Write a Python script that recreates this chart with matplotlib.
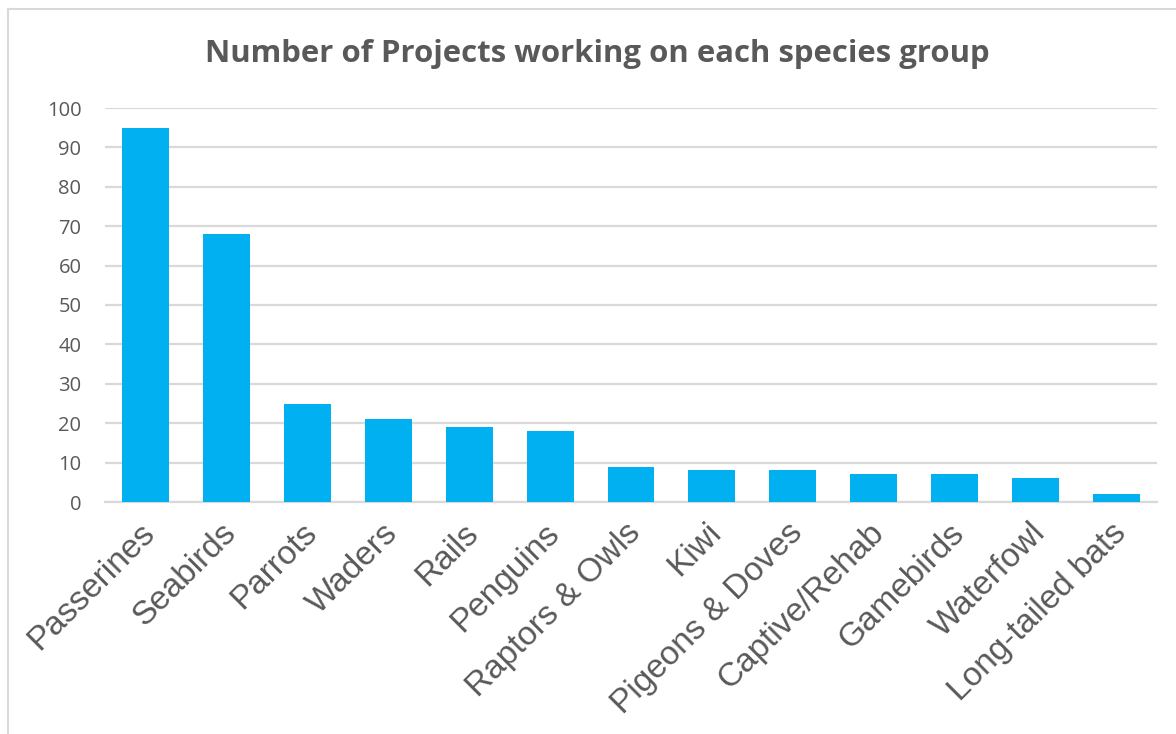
import matplotlib
matplotlib.use("Agg")
import matplotlib.pyplot as plt
import matplotlib.transforms as mtransforms
from matplotlib.lines import Line2D

species = ["Passerines", "Seabirds", "Parrots", "Waders", "Rails", "Penguins",
           "Raptors & Owls", "Kiwi", "Pigeons & Doves", "Captive/Rehab",
           "Gamebirds", "Waterfowl", "Long-tailed bats"]
projects = [95, 68, 25, 21, 19, 18, 9, 8, 8, 7, 7, 6, 2]
yticks = [0, 10, 20, 30, 40, 50, 60, 70, 80, 90, 100]

GREY = "#595959"
GRID = "#D9D9D9"

fig = plt.figure(figsize=(11.76, 7.34), dpi=100)
ax = fig.add_axes([105 / 1176, 1 - 502 / 734, 1052 / 1176, 394 / 734])

x = range(len(species))
ax.bar(x, projects, width=0.58, color="#00B0F0", zorder=3)
ax.set_xlim(-0.5, len(species) - 0.5)
ax.set_ylim(0, 100)
ax.set_yticks(yticks)
ax.yaxis.grid(True, color=GRID, linewidth=1.6, zorder=0)
for s in ["top", "right", "left"]:
    ax.spines[s].set_visible(False)
ax.spines["bottom"].set_color(GRID)
ax.spines["bottom"].set_linewidth(1.6)
ax.tick_params(axis="y", length=0, pad=17, labelsize=14.5, labelcolor=GREY)
ax.tick_params(axis="x", length=0, pad=11)
for lab in ax.get_yticklabels():
    lab.set_fontfamily("Open Sans")

ax.set_xticks(list(x))
ax.set_xticklabels(species, rotation=45, ha="right", va="top",
                   rotation_mode="anchor", fontsize=24, color=GREY,
                   fontfamily="Liberation Sans")
# nudge the slanted labels a little to the left
shift = mtransforms.ScaledTranslation(-6 / 100, 0, fig.dpi_scale_trans)
for lab in ax.get_xticklabels():
    lab.set_transform(lab.get_transform() + shift)

fig.text(0.508, 1 - 54 / 734, "Number of Projects working on each species group",
         ha="center", va="center", fontsize=22.4, fontweight="bold",
         color=GREY, fontfamily="Open Sans")

# chart frame (left and top edges visible in the crop)
fig.add_artist(Line2D([8 / 1176, 8 / 1176], [0, 1 - 9 / 734], color=GRID, lw=1.5))
fig.add_artist(Line2D([8 / 1176, 1], [1 - 9 / 734, 1 - 9 / 734], color=GRID, lw=1.5))

fig.savefig("out.png", dpi=100)
